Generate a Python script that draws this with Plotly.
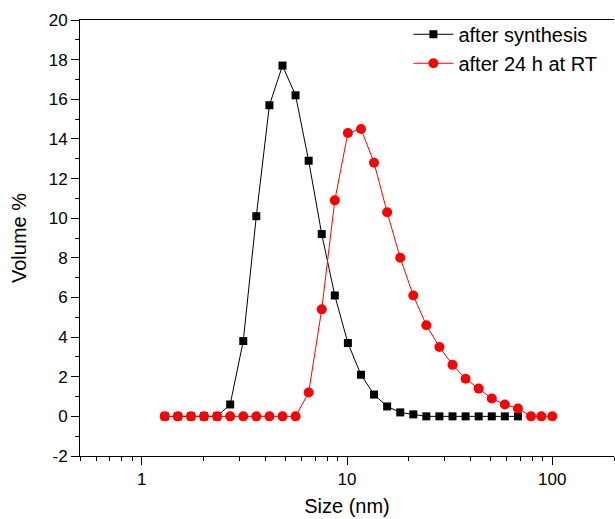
import plotly.graph_objects as go
import math

# Size bins (nm)
size_black = [1.294, 1.499, 1.736, 2.01, 2.328, 2.696, 3.122, 3.615, 4.187, 4.849,
              5.615, 6.503, 7.531, 8.721, 10.1, 11.7, 13.54, 15.69, 18.17, 21.04,
              24.36, 28.21, 32.67, 37.84, 43.82, 50.75, 58.77, 68.06]
vol_black = [0, 0, 0, 0, 0, 0.6, 3.8, 10.1, 15.7, 17.7,
             16.2, 12.9, 9.2, 6.1, 3.7, 2.1, 1.1, 0.5, 0.2, 0.1,
             0, 0, 0, 0, 0, 0, 0, 0]

size_red = [1.294, 1.499, 1.736, 2.01, 2.328, 2.696, 3.122, 3.615, 4.187, 4.849,
            5.615, 6.503, 7.531, 8.721, 10.1, 11.7, 13.54, 15.69, 18.17, 21.04,
            24.36, 28.21, 32.67, 37.84, 43.82, 50.75, 58.77, 68.06, 78.8, 88.5, 100]
vol_red = [0, 0, 0, 0, 0, 0, 0, 0, 0, 0,
           0, 1.2, 5.4, 10.9, 14.3, 14.5, 12.8, 10.3, 8.0, 6.1,
           4.6, 3.5, 2.6, 1.9, 1.4, 0.9, 0.6, 0.4, 0, 0, 0]

x_ticks = [1, 10, 100]
y_ticks = list(range(-2, 21, 2))
y_tick_text = [str(v) for v in y_ticks]  # plain hyphen for "-2"

font_family = "Liberation Sans, Arial, sans-serif"

fig = go.Figure()
fig.add_trace(go.Scatter(
    x=size_black, y=vol_black, mode="lines+markers", name="after synthesis",
    line=dict(color="black", width=1),
    marker=dict(symbol="square", size=8, color="black"),
))
fig.add_trace(go.Scatter(
    x=size_red, y=vol_red, mode="lines+markers", name="after 24 h at RT",
    line=dict(color="red", width=1),
    marker=dict(symbol="circle", size=10, color="red"),
))

fig.update_layout(
    width=615, height=519,
    margin=dict(l=80, r=1, t=20, b=63),
    paper_bgcolor="white", plot_bgcolor="white",
    font=dict(family=font_family, size=17, color="black"),
    showlegend=True,
    legend=dict(x=0.615, y=1.012, xanchor="left", yanchor="top",
                bgcolor="rgba(0,0,0,0)", font=dict(size=20),
                tracegroupgap=0, itemwidth=40),
)
fig.update_xaxes(
    type="log", range=[math.log10(0.5), math.log10(200)],
    tickvals=x_ticks, ticktext=[str(v) for v in x_ticks],
    ticks="outside", ticklen=8, tickwidth=1, tickcolor="black",
    showline=True, linecolor="black", linewidth=1, mirror=True,
    showgrid=False, zeroline=False,
    minor=dict(ticks="outside", ticklen=4, tickwidth=1, tickcolor="black",
               tickvals=[m * 10 ** e for e in (-1, 0, 1, 2) for m in range(2, 10)]),
    title=dict(text="Size (nm)", font=dict(size=20), standoff=10),
    tickfont=dict(size=17),
)
fig.update_yaxes(
    range=[-2, 20], tickvals=y_ticks, ticktext=y_tick_text,
    ticks="outside", ticklen=8, tickwidth=1, tickcolor="black",
    showline=True, linecolor="black", linewidth=1, mirror=False,
    showgrid=False, zeroline=False,
    minor=dict(ticks="outside", ticklen=4, tickwidth=1, tickcolor="black", dtick=1),
    title=dict(text="Volume %", font=dict(size=20), standoff=16),
    tickfont=dict(size=17),
)

fig.write_html("out.html", config={"displayModeBar": False},
               post_script="document.body.style.margin='0px';document.body.style.overflow='hidden';")
